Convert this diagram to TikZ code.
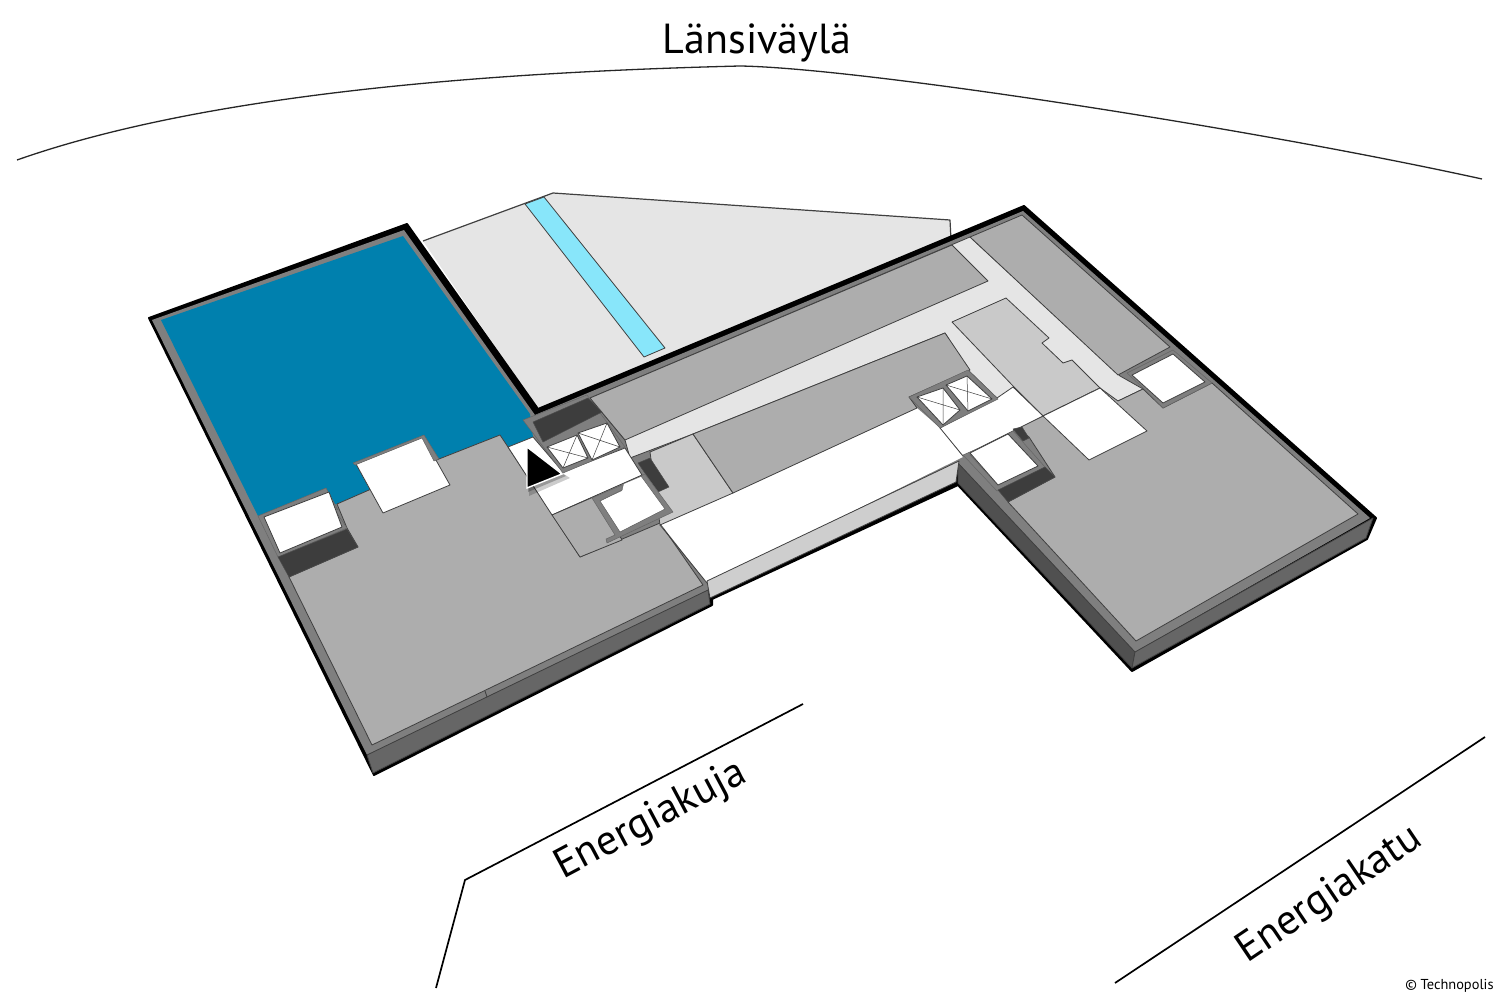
\documentclass[tikz,border=0pt]{standalone}
\usepackage{fontspec}
\setmainfont{PT Sans}
\definecolor{floorgrey}{HTML}{ADADAD}
\definecolor{wallgrey}{HTML}{7F7F7F}
\definecolor{facegrey}{HTML}{666666}
\definecolor{sidegrey}{HTML}{505050}
\definecolor{coregrey}{HTML}{3D3D3D}
\definecolor{hallgrey}{HTML}{C9C9C9}
\definecolor{lightgrey}{HTML}{E5E5E5}
\definecolor{wingblue}{HTML}{0080AE}
\definecolor{poolcyan}{HTML}{88E6FA}
\tikzset{
    road/.style={black, line width=0.85pt},
    streetname/.style={font=\fontsize{21}{21}\selectfont, inner sep=0pt, anchor=base},
    plate/.style={draw=black!75, line width=0.4pt, line join=round},
    wallpart/.style={fill=wallgrey, draw=black!60, line width=0.25pt, line join=round},
    corepart/.style={fill=coregrey, draw=black!70, line width=0.25pt, line join=round},
}
\begin{document}
\begin{tikzpicture}[x=0.5pt, y=-0.5pt]
    \useasboundingbox (0,0) rectangle (1500,1000);
    % streets
    \draw[road, line width=0.65pt, black!85] (17,160) .. controls (210,92) and (500,72) .. (740,66)
        .. controls (860,68) and (1250,128) .. (1482,179);
    \draw[road] (803,704) -- (465,880) -- (436,988);
    \draw[road] (1485,737) -- (1115,983);
    \node[streetname] at (757,54) {Länsiväylä};
    \node[streetname, rotate=28] at (656,830) {Energiakuja};
    \node[streetname, rotate=34] at (1336,904) {Energiakatu};
    \node[anchor=east, inner sep=0pt, font=\fontsize{7.2}{7.2}\selectfont] at (1494,986) {© Technopolis};
    % terrace
    \fill[lightgrey] (423,241) -- (553,193) -- (950,220) -- (951,240) -- (540,412) -- cycle;
    \draw[plate, line width=0.6pt] (423,241) -- (553,193) -- (950,220) -- (951,240);
    \draw[plate, fill=poolcyan] (525,204) -- (544,197) -- (665,348) -- (644,357) -- cycle;
    % building shell
    \fill[black, draw=black, line width=1pt, line join=round] (149,318) -- (407,224) -- (538,409) -- (1024,206)
        -- (1376,518) -- (1367,539) -- (1132,671) -- (958,485) -- (712,599) -- (712,605) -- (374,775) -- cycle;
    \fill[wallgrey] (152,320) -- (404,230) -- (535,415) -- (1023,211) -- (1370,518) -- (1135,652)
        -- (958,463) -- (708,590) -- (367,755) -- cycle;
    \draw[plate, fill=facegrey] (367,755) -- (708,590) -- (710,604) -- (373,773) -- cycle;
    \draw[plate, fill=sidegrey] (958,463) -- (1135,652) -- (1132,668) -- (958,483) -- cycle;
    \draw[plate, fill=facegrey] (1135,652) -- (1373,518) -- (1366,538) -- (1132,668) -- cycle;
    \draw[plate] (485,691) -- (487,697);
    % blue wing and left floor
    \fill[wingblue] (161,320) -- (403,236) -- (530,414) -- (533,437) -- (508,447) -- (500,435) -- (439,459)
        -- (369,490) -- (337,504) -- (258,516) -- cycle;
    \draw[plate, fill=floorgrey] (289,577) -- (372,745) -- (703,585) -- (660,523) -- (580,557) -- (508,447)
        -- (500,435) -- (439,459) -- (369,490) -- (337,504) -- (347,528) -- (358,547) -- cycle;
    % upper right floor
    \draw[plate, fill=lightgrey] (625,440) -- (590,398) -- (970,237) -- (1120,376) -- (1143,389) -- (1118,401)
        -- (1043,416) -- (997,398) -- (968,370) -- (945,333) -- (693,434) -- (630,458) -- cycle;
    \fill[white] (660,523) -- (917,408) -- (940,428) -- (963,457) -- (707,583) -- cycle;
    \draw[plate] (660,525) -- (707,583);
    \draw[plate, fill=floorgrey] (590,398) -- (952,245) -- (988,281) -- (625,440) -- cycle;
    \draw[plate, fill=floorgrey] (970,237) -- (1022,215) -- (1170,347) -- (1118,375) -- cycle;
    \draw[plate, fill=hallgrey] (952,322) -- (1006,298) -- (1049,338) -- (1042,343) -- (1063,363) -- (1072,360)
        -- (1100,388) -- (1043,416) -- (1014,387) -- cycle;
    \draw[plate, fill=hallgrey] (650,452) -- (693,434) -- (733,493) -- (660,525) -- cycle;
    \draw[plate, fill=floorgrey] (693,434) -- (945,333) -- (970,370) -- (909,397) -- (917,408) -- (733,493) -- cycle;
    % right floor
    \draw[plate, fill=floorgrey] (1008,502) -- (1055,477) -- (1029,437) -- (1018,428) -- (1043,416) -- (1100,388)
        -- (1118,401) -- (1143,389) -- (1163,408) -- (1212,383) -- (1358,514) -- (1136,641) -- cycle;
    % white halls
    \draw[plate, fill=white] (1043,416) -- (1100,388) -- (1147,431) -- (1089,460) -- cycle;
    \draw[plate, fill=white] (940,428) -- (997,398) -- (1013,387) -- (1043,416) -- (963,456) -- cycle;
    \draw[plate, fill=lightgrey!90!black] (707,581) -- (959,461) -- (956,482) -- (710,598) -- cycle;
    \draw[plate, fill=white] (508,447) -- (533,437) -- (563,472) -- (625,448) -- (642,475) -- (552,515) -- cycle;
    \draw[plate, fill=floorgrey] (552,515) -- (598,495) -- (622,540) -- (580,557) -- cycle;
    \draw[plate, fill=white] (356,464) -- (423,437) -- (450,485) -- (383,513) -- cycle;
    % left rooms
    \draw[wallpart] (258,516) -- (326,488) -- (338,510) -- (332,506) -- (347,528) -- (278,557) -- cycle;
    \draw[plate, fill=white] (264,517) -- (329,492) -- (342,527) -- (280,553) -- cycle;
    \draw[corepart] (278,557) -- (347,529) -- (358,547) -- (289,577) -- cycle;
    \draw[wallpart] (353,463) -- (424,435) -- (439,459) -- (434,461) -- (422,438) -- (355,465) -- cycle;
    % left lifts and rooms
    \draw[wallpart] (523,420) -- (587,395) -- (625,447) -- (563,473) -- cycle;
    \draw[corepart] (533,422) -- (588,398) -- (602,412) -- (543,442) -- cycle;
    \draw[corepart] (638,463) -- (650,458) -- (669,487) -- (658,492) -- cycle;
    \draw[plate, fill=white, draw=none] (600,501) -- (622,491) -- (624,484) -- (643,476) -- (667,508) -- (620,532) -- cycle;
    \draw[wallpart] (592,498) -- (622,485) -- (622,490) -- (600,501) -- (620,532) -- (665,509) -- (641,476) -- (645,474)
        -- (673,512) -- (607,543) -- (606,539) -- (615,535) -- cycle;
    % right lifts and rooms
    \draw[wallpart] (909,397) -- (968,370) -- (998,399) -- (940,428) -- cycle;
    \draw[wallpart] (963,455) -- (993,442) -- (994,445) -- (970,455) -- (997,484) -- (1038,466) -- (1008,434)
        -- (1013,431) -- (1045,467) -- (997,491) -- cycle;
    \draw[plate, fill=white] (970,453) -- (1008,434) -- (1038,466) -- (998,485) -- cycle;
    \draw[corepart] (998,490) -- (1045,467) -- (1055,477) -- (1008,502) -- cycle;
    \draw[corepart] (1013,429) -- (1022,427) -- (1029,438) -- (1023,441) -- cycle;
    \draw[wallpart] (1127,373) -- (1173,350) -- (1212,383) -- (1163,408) -- (1143,388) -- cycle;
    \draw[plate, fill=white] (1132,375) -- (1173,354) -- (1205,382) -- (1163,403) -- cycle;
    \foreach \ax/\ay/\bx/\by/\cx/\cy/\dx/\dy in {547/447/577/435/588/458/563/468,578/433/607/423/620/447/592/460,
        917/397/943/388/960/410/943/425,946/385/967/376/992/399/968/411}{
        \draw[plate, fill=white] (\ax,\ay) -- (\bx,\by) -- (\cx,\cy) -- (\dx,\dy) -- cycle;
        \draw[plate, line width=0.25pt] (\ax,\ay) -- (\cx,\cy) (\bx,\by) -- (\dx,\dy);
    }
    % you are here
    \fill[black, opacity=0.2] (529,452) -- (570,478) -- (529,496) -- cycle;
    \fill[black, opacity=0.25] (528,450) -- (566,476) -- (528,492) -- cycle;
    \draw[white, fill=black, line width=0.7pt] (527,447) -- (562,474) -- (527,488) -- cycle;
\end{tikzpicture}
\end{document}
